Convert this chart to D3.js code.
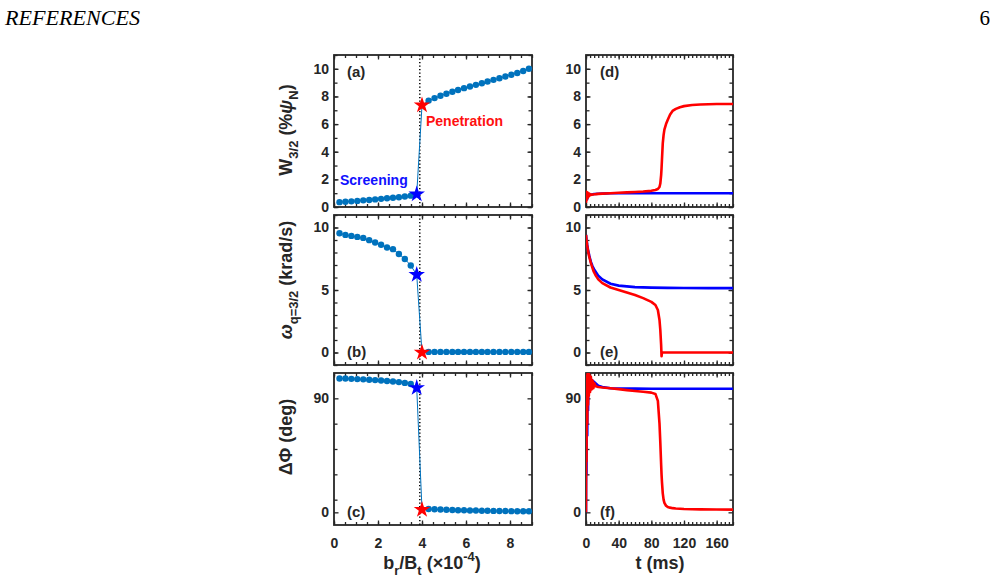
<!DOCTYPE html>
<html>
<head>
<meta charset="utf-8">
<script src="https://cdn.jsdelivr.net/npm/d3@7"></script>
<style>
body { margin: 0; background: #fff; }
svg { display: block; font-family: "Liberation Sans", Arial, sans-serif; }
</style>
</head>
<body>
<svg id="chart" width="998" height="585"></svg>
<script>
// scan over applied field b_r/B_t (x 1e-4); index 13 = last screened point, 14 = first penetrated point
var bScan = [0.25,0.52,0.79,1.06,1.33,1.60,1.87,2.14,2.41,2.68,2.95,3.22,3.49,3.76,
             4.0,4.30,4.57,4.84,5.11,5.38,5.64,5.91,6.18,6.45,6.72,6.98,7.25,7.52,7.79,8.06,8.33,8.60,8.86];
var wScan = [0.35,0.38,0.41,0.44,0.48,0.51,0.55,0.59,0.63,0.67,0.71,0.76,0.82,0.93,
             7.36,7.7,7.88,8.05,8.2,8.34,8.47,8.6,8.72,8.84,8.96,9.08,9.2,9.32,9.44,9.57,9.7,9.84,10.0];
var omegaScan = [9.54,9.41,9.33,9.25,9.17,8.99,8.8,8.62,8.4,8.27,7.88,7.48,6.96,6.22,
                 0.0,0.05,0.05,0.05,0.05,0.05,0.05,0.05,0.05,0.05,0.05,0.05,0.05,0.05,0.05,0.05,0.05,0.05,0.05];
var phaseScan = [105.7,105.6,105.4,105.2,105.0,104.7,104.4,104.1,103.7,103.3,102.8,102.2,101.3,98.3,
                 2.1,2.6,2.4,2.2,2.0,1.85,1.7,1.6,1.5,1.4,1.3,1.2,1.15,1.1,1.0,0.95,0.9,0.85,0.8];
var screenIdx = 13, penIdx = 14;
var bThreshold = 3.9;

// time traces (ms)
var tBlue = [0,0.3,0.6,1,1.5,2,2.5,3,4,5,6,8,10,15,20,30,40,60,80,100,120,150,180];
var wBlue = [0.5,1.0,0.6,0.95,0.7,0.92,0.8,0.9,0.88,0.9,0.91,0.92,0.94,0.96,0.97,0.99,1.0,1.0,1.0,1.0,1.0,1.0,1.0];
var omegaBlue = [9.4,9.25,9.05,8.85,8.6,8.4,8.2,8.05,7.75,7.5,7.25,6.9,6.65,6.15,5.85,5.5,5.35,5.23,5.19,5.17,5.16,5.15,5.15];
var phaseBlue = [0,70,30,105,60,108,80,108,95,106,100,104,103,100,99,98,97.8,97.7,97.6,97.6,97.6,97.6,97.6];

var tRed = [0,0.3,0.6,1,1.5,2,2.5,3,3.5,4,5,6,7,8,9,10,12,15,20,30,40,50,60,70,80,85,88,90,91,92,
            92.5,93,94,95,96,98,100,103,106,110,115,120,130,140,160,180];
var wRed = [0.3,1.1,0.45,1.08,0.6,1.05,0.7,1.0,0.78,0.97,0.85,0.9,0.88,0.9,0.91,0.92,0.93,0.95,0.97,1.0,
            1.03,1.06,1.09,1.12,1.17,1.23,1.3,1.45,1.7,2.3,2.8,3.4,4.6,5.2,5.6,6.0,6.3,6.7,6.95,7.1,
            7.22,7.3,7.38,7.42,7.45,7.45];
var omegaRed = [9.4,9.2,9.0,8.8,8.55,8.35,8.15,7.95,7.8,7.65,7.4,7.15,6.95,6.75,6.55,6.4,6.15,5.85,5.55,5.2,
                5.0,4.8,4.6,4.35,4.05,3.8,3.4,2.6,1.8,0.6,-0.3,0,0,0,0,0,0,0,0,0,0,0,0,0,0,0];
var phaseRed = [0,80,40,108,70,110,85,110,92,109,95,107,97,104,98,102,99.5,99,98.6,98,
                97.3,96.5,95.8,95.2,94.5,93.5,88,70,55,38,30,24,15,10,7.5,5.2,4.3,3.7,3.3,3.0,
                2.8,2.6,2.4,2.3,2.2,2.1];

var svg = d3.select('#chart');
var ink = '#262626';
var dotBlue = '#0072bd';

// page header
svg.append('text')
    .attr('x', 5).attr('y', 25)
    .attr('font-family', '"Liberation Serif", serif')
    .attr('font-style', 'italic')
    .attr('font-size', 21)
    .attr('textLength', 135).attr('lengthAdjust', 'spacingAndGlyphs')
    .text('REFERENCES');
svg.append('text')
    .attr('x', 990).attr('y', 25).attr('text-anchor', 'end')
    .attr('font-family', '"Liberation Serif", serif')
    .attr('font-size', 21)
    .text('6');

var xb = d3.scaleLinear().domain([0, 9]).range([334, 532]);
var xt = d3.scaleLinear().domain([0, 180]).range([586, 733]);

var rows = [
    { dom: [0, 11], range: [207, 55], major: [0,2,4,6,8,10], minor: d3.range(0, 11.5, 1) },
    { dom: [-1, 11], range: [365, 215], major: [0,5,10], minor: d3.range(-1, 11.5, 1) },
    { dom: [-10, 110], range: [525, 373], major: [0,90], minor: [10,30,50,70] }
];
var yScales = rows.map(r => d3.scaleLinear().domain(r.dom).range(r.range));

function frame(x, y, row, xMajor, xMinor, showX) {
    var g = svg.append('g');
    var [x0, x1] = x.range(), [y0, y1] = y.range();

    function axis(gen, pos, vals, size, labels) {
        var a = g.append('g')
            .attr('transform', pos)
            .call(gen.tickValues(vals).tickSize(-size).tickPadding(labels ? 5 : 0)
                .tickFormat(labels ? d3.format('d') : ''));
        a.select('.domain').remove();
        a.selectAll('line').attr('stroke', ink).attr('stroke-width', 1.3);
        a.selectAll('text')
            .attr('fill', ink)
            .attr('font-size', 14)
            .attr('font-weight', 'bold')
            .attr('font-family', '"Liberation Sans", Arial, sans-serif');
        return a;
    }
    // ticks on all four sides, pointing inwards
    axis(d3.axisLeft(y), `translate(${x0},0)`, row.minor, 3.5, false);
    axis(d3.axisLeft(y), `translate(${x0},0)`, row.major, 4.5, true);
    axis(d3.axisRight(y), `translate(${x1},0)`, row.minor, 3.5, false);
    axis(d3.axisRight(y), `translate(${x1},0)`, row.major, 4.5, false);
    axis(d3.axisTop(x), `translate(0,${y1})`, xMinor, 3, false);
    axis(d3.axisTop(x), `translate(0,${y1})`, xMajor, 4.5, false);
    axis(d3.axisBottom(x), `translate(0,${y0})`, xMinor, 3, false);
    var bot = axis(d3.axisBottom(x), `translate(0,${y0})`, xMajor, 4.5, showX);
    if (showX) bot.selectAll('text').attr('y', 13);

    g.append('rect')
        .attr('x', x0).attr('y', y1)
        .attr('width', x1 - x0).attr('height', y0 - y1)
        .attr('fill', 'none').attr('stroke', ink).attr('stroke-width', 1.8);
    return g;
}

function panelTag(x, y, s) {
    svg.append('text')
        .attr('x', x).attr('y', y)
        .attr('font-size', 15).attr('font-weight', 'bold').attr('fill', ink)
        .text(s);
}

// ---- left column: threshold scan ----
var scans = [wScan, omegaScan, phaseScan];
var tags = ['(a)', '(b)', '(c)'];
var tagsR = ['(d)', '(e)', '(f)'];

scans.forEach(function(vals, i) {
    var y = yScales[i];
    frame(xb, y, rows[i], [0,2,4,6,8], d3.range(0, 9.01, 0.5), i == 2);

    svg.append('line')
        .attr('x1', xb(bThreshold)).attr('x2', xb(bThreshold))
        .attr('y1', y.range()[1]).attr('y2', y.range()[0])
        .attr('stroke', '#000').attr('stroke-width', 1.5)
        .attr('stroke-dasharray', '1.3,2.2');

    var pts = bScan.map((b, k) => [b, vals[k]]);
    var line = d3.line().x(d => xb(d[0])).y(d => y(d[1]));
    svg.append('path')
        .attr('d', line(pts))
        .attr('fill', 'none')
        .attr('stroke', dotBlue).attr('stroke-width', 1);

    svg.append('g').selectAll('circle')
        .data(pts.filter((d, k) => k != screenIdx && k != penIdx))
        .join('circle')
        .attr('cx', d => xb(d[0])).attr('cy', d => y(d[1]))
        .attr('r', 3.2).attr('fill', dotBlue);

    var star = d3.symbol(d3.symbolStar, 85);
    [[screenIdx, '#0000ff'], [penIdx, '#ff0000']].forEach(function(s) {
        svg.append('path')
            .attr('d', star())
            .attr('transform', `translate(${xb(bScan[s[0]])},${y(vals[s[0]])})`)
            .attr('fill', s[1]);
    });

    var top = i == 0;
    panelTag(347, top ? y.range()[1] + 22 : y.range()[0] - 8, tags[i]);
});

svg.append('text')
    .attr('x', 340).attr('y', 185)
    .attr('font-size', 14).attr('font-weight', 'bold').attr('fill', '#1010ff')
    .text('Screening');
svg.append('text')
    .attr('x', 426).attr('y', 126)
    .attr('font-size', 14).attr('font-weight', 'bold').attr('fill', '#ff1010')
    .text('Penetration');

// ---- right column: time evolution ----
var blues = [wBlue, omegaBlue, phaseBlue];
var reds = [wRed, omegaRed, phaseRed];

blues.forEach(function(bv, i) {
    var y = yScales[i];
    frame(xt, y, rows[i], [0,40,80,120,160], d3.range(0, 180.1, 5), i == 2);

    var clipId = `clip-${i}`;
    svg.append('clipPath').attr('id', clipId)
        .append('rect')
        .attr('x', xt.range()[0]).attr('y', y.range()[1])
        .attr('width', xt.range()[1] - xt.range()[0])
        .attr('height', y.range()[0] - y.range()[1]);

    var line = d3.line().x(d => xt(d[0])).y(d => y(d[1]));
    svg.append('path')
        .attr('d', line(tBlue.map((t, k) => [t, bv[k]])))
        .attr('clip-path', `url(#${clipId})`)
        .attr('fill', 'none').attr('stroke', '#0000ff').attr('stroke-width', 2.6);
    svg.append('path')
        .attr('d', line(tRed.map((t, k) => [t, reds[i][k]])))
        .attr('clip-path', `url(#${clipId})`)
        .attr('fill', 'none').attr('stroke', '#ff0000').attr('stroke-width', 2.6)
        .attr('stroke-linejoin', 'round');

    panelTag(600, i == 0 ? y.range()[1] + 22 : y.range()[0] - 8, tagsR[i]);
});

// ---- axis titles ----
function rich(t, parts, size) {
    var shift = 0;
    parts.forEach(function(p) {
        var target = p[1] == 'sub' ? size * 0.32 : p[1] == 'sup' ? -size * 0.42 : 0;
        t.append('tspan')
            .attr('dy', target - shift)
            .attr('font-size', p[1] ? size * 0.72 : size)
            .attr('font-style', p[2] || null)
            .text(p[0]);
        shift = target;
    });
}

function title(x, y, rot, parts) {
    var t = svg.append('text')
        .attr('transform', `translate(${x},${y})` + (rot ? ' rotate(-90)' : ''))
        .attr('text-anchor', 'middle')
        .attr('font-size', 18).attr('font-weight', 'bold').attr('fill', ink);
    rich(t, parts, 18);
}

title(292, 130, true, [['W'], ['3/2', 'sub'], [' (%'], ['ψ', '', 'italic'], ['N', 'sub'], [')']]);
title(292, 280, true, [['ω', '', 'italic'], ['q=3/2', 'sub'], [' (krad/s)']]);
title(292, 437, true, [['ΔΦ (deg)']]);
title(432, 569, false, [['b'], ['r', 'sub'], ['/B'], ['t', 'sub'], [' (×10'], ['-4', 'sup'], [')']]);
title(660, 569, false, [['t (ms)']]);
</script>
</body>
</html>
